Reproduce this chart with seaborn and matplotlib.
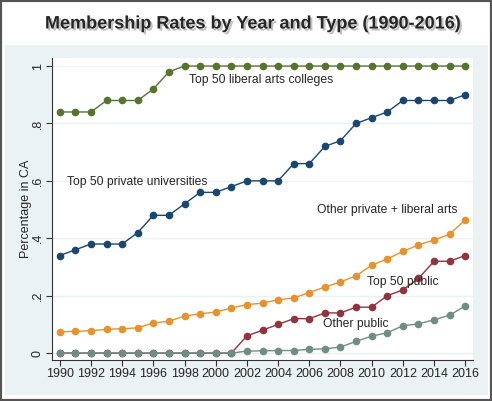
import numpy as np
import pandas as pd
import matplotlib
matplotlib.use("Agg")
import matplotlib.pyplot as plt
import matplotlib.patheffects as pe
from matplotlib.patches import Rectangle
import seaborn as sns

years = list(range(1990, 2017))

liberal_arts = [0.84, 0.84, 0.84, 0.88, 0.88, 0.88, 0.92, 0.98, 1.0, 1.0,
                1.0, 1.0, 1.0, 1.0, 1.0, 1.0, 1.0, 1.0, 1.0, 1.0,
                1.0, 1.0, 1.0, 1.0, 1.0, 1.0, 1.0]
private_univ = [0.34, 0.36, 0.38, 0.38, 0.38, 0.42, 0.48, 0.48, 0.52, 0.56,
                0.56, 0.58, 0.60, 0.60, 0.60, 0.66, 0.66, 0.72, 0.74, 0.80,
                0.82, 0.84, 0.88, 0.88, 0.88, 0.88, 0.90]
other_private = [0.074, 0.076, 0.078, 0.083, 0.085, 0.088, 0.105, 0.111, 0.129, 0.137,
                 0.143, 0.157, 0.169, 0.174, 0.186, 0.192, 0.211, 0.230, 0.248, 0.269,
                 0.306, 0.328, 0.354, 0.377, 0.394, 0.414, 0.464]
top_public = [0, 0, 0, 0, 0, 0, 0, 0, 0, 0,
              0, 0, 0.06, 0.08, 0.10, 0.12, 0.12, 0.14, 0.14, 0.16,
              0.16, 0.20, 0.22, 0.26, 0.32, 0.32, 0.34]
other_public = [0, 0, 0, 0, 0, 0, 0, 0, 0, 0,
                0, 0, 0.007, 0.008, 0.009, 0.009, 0.013, 0.015, 0.021, 0.041,
                0.059, 0.071, 0.095, 0.102, 0.116, 0.132, 0.164]

series = {
    "Top 50 liberal arts colleges": liberal_arts,
    "Top 50 private universities": private_univ,
    "Other private + liberal arts": other_private,
    "Top 50 public": top_public,
    "Other public": other_public,
}
colors = {
    "Top 50 liberal arts colleges": "#55752f",
    "Top 50 private universities": "#1a476f",
    "Other private + liberal arts": "#e8922e",
    "Top 50 public": "#90353b",
    "Other public": "#6e8e84",
}

df = pd.concat(
    [pd.DataFrame({"year": years, "share": vals, "type": name}) for name, vals in series.items()],
    ignore_index=True,
)

sns.set_style("white")
plt.rcParams["font.family"] = ["Liberation Sans", "DejaVu Sans"]

fig = plt.figure(figsize=(4.92, 4.01), dpi=100, facecolor="white")
# light graph region and dark frame like the exported Stata graph
fig.patches.append(Rectangle((5 / 492, 1 - 395 / 401), 483 / 492, 350 / 401,
                             transform=fig.transFigure, facecolor="#eaf2f3",
                             edgecolor="none", zorder=-1))
fig.patches.append(Rectangle((0, 0), 1, 1, transform=fig.transFigure, fill=False,
                             edgecolor="#555555", linewidth=3, zorder=10))

ax = fig.add_axes([52 / 492, 1 - 360 / 401, 421 / 492, 302 / 401])
ax.set_facecolor("white")

sns.lineplot(data=df, x="year", y="share", hue="type", palette=colors, marker="o",
             markersize=5.5, markeredgewidth=0, linewidth=1.0, legend=False, ax=ax)

ax.set_xlim(1989.5, 2016.5)
ax.set_ylim(-0.024, 1.028)
ax.set_xticks(range(1990, 2017, 2))
ax.set_yticks([0, 0.2, 0.4, 0.6, 0.8, 1.0])
ax.set_yticklabels(["0", ".2", ".4", ".6", ".8", "1"], rotation=90, va="center")
ax.yaxis.grid(True, color="#eaf2f3", linewidth=1)
ax.set_axisbelow(True)
ax.tick_params(axis="both", direction="out", length=4, width=0.8, color="#333333",
               labelsize=9, left=True, bottom=True, pad=2)
for side in ["top", "right"]:
    ax.spines[side].set_visible(False)
for side in ["left", "bottom"]:
    ax.spines[side].set_color("#333333")
    ax.spines[side].set_linewidth(0.8)

ax.set_xlabel("")
ax.set_ylabel("Percentage in CA", fontsize=9, labelpad=0)

ax.text(1998.3, 0.951, "Top 50 liberal arts colleges", fontsize=8.7, va="center")
ax.text(1990.45, 0.596, "Top 50 private universities", fontsize=8.7, va="center")
ax.text(2006.5, 0.498, "Other private + liberal arts", fontsize=8.7, va="center")
ax.text(2009.7, 0.247, "Top 50 public", fontsize=8.7, va="center")
ax.text(2006.9, 0.10, "Other public", fontsize=8.7, va="center")

fig.text(0.513, 1 - 24 / 401, "Membership Rates by Year and Type (1990-2016)",
         ha="center", va="center", fontsize=13, fontweight="bold",
         path_effects=[pe.withSimplePatchShadow(offset=(1.5, -1.5), shadow_rgbFace="#999999", alpha=0.6)])

fig.savefig("out.png", dpi=100, facecolor=fig.get_facecolor())
